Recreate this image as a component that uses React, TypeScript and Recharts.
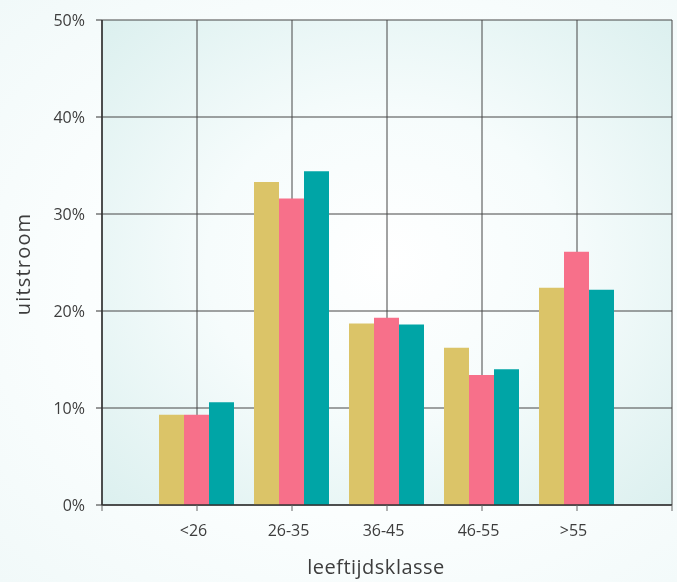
import { BarChart, Bar, XAxis, YAxis, CartesianGrid, Label } from 'recharts'

// ── Data ──────────────────────────────────────────────────────────────────────

const AGE_GROUPS = ['<26', '26-35', '36-45', '46-55', '>55']
const SERIES_A = [9.3, 33.3, 18.7, 16.2, 22.4]
const SERIES_B = [9.3, 31.6, 19.3, 13.4, 26.1]
const SERIES_C = [10.6, 34.4, 18.6, 14.0, 22.2]
const Y_TICKS = [0, 10, 20, 30, 40, 50]
const X_TICKS = [0, 1, 2, 3, 4, 5, 6]

// position 1..5 on a numeric axis so the slots sit on the grid lines
const chartData = AGE_GROUPS.map((g, i) => ({
  pos: i + 1,
  groep: g,
  a: SERIES_A[i],
  b: SERIES_B[i],
  c: SERIES_C[i],
}))

// ── Styles ────────────────────────────────────────────────────────────────────

const FONT = '"Open Sans", sans-serif'
const W = 677
const H = 582
const TEXT = '#3d3d3d'

function YTick({ x, y, payload }: any) {
  return (
    <text x={x} y={y} textAnchor="end" dominantBaseline="central"
      fill={TEXT} style={{ fontSize: 16, fontFamily: FONT }}>{`${payload.value}%`}</text>
  )
}

export default function App() {
  return (
    <div style={{
      position: 'fixed', left: 0, top: 0, width: W, height: H,
      background: 'radial-gradient(ellipse at 55% 50%, #ffffff 0%, #fbfefe 55%, #f1f9f9 100%)',
    }}>
      <BarChart width={W} height={H} data={chartData}
        margin={{ top: 20, right: 5, left: 0, bottom: 0 }}
        barGap={0} barCategoryGap="10%">
        <defs>
          <radialGradient id="plotBg" cx="50%" cy="50%" r="70%">
            <stop offset="0%" stopColor="#ffffff" />
            <stop offset="45%" stopColor="#f6fcfc" />
            <stop offset="100%" stopColor="#dcf0ef" />
          </radialGradient>
        </defs>
        <CartesianGrid stroke="#474747" strokeWidth={1} fill="url(#plotBg)" />
        <XAxis
          dataKey="pos" type="number" domain={[0, 6]} ticks={X_TICKS}
          height={77} interval={0}
          tickFormatter={(v: number) => AGE_GROUPS[v - 1] ?? ''}
          tick={{ fill: TEXT, fontSize: 16, fontFamily: FONT, dx: -3.5 }}
          tickSize={6} tickMargin={14}
          axisLine={{ stroke: '#333', strokeWidth: 1.5 }}
          tickLine={{ stroke: '#666' }}
        >
          <Label content={() => (
            <text x={376} y={574} textAnchor="middle" fill={TEXT}
              fontSize={20} fontFamily={FONT} letterSpacing={0.5}>leeftijdsklasse</text>
          )} />
        </XAxis>
        <XAxis xAxisId="top" orientation="top" type="number" domain={[0, 1]} height={0}
          tick={false} tickLine={false} axisLine={{ stroke: '#8c8c8c', strokeWidth: 2 }} />
        <YAxis
          type="number" domain={[0, 50]} ticks={Y_TICKS} width={102} interval={0}
          tick={<YTick />}
          tickSize={6} tickMargin={11}
          axisLine={{ stroke: '#333', strokeWidth: 1.5 }}
          tickLine={{ stroke: '#333' }}
        >
          <Label content={() => (
            <text x={22} y={264} textAnchor="middle" dominantBaseline="central"
              transform="rotate(-90 22 264)" fill={TEXT}
              fontSize={20} fontFamily={FONT} letterSpacing={1.2}>uitstroom</text>
          )} />
        </YAxis>
        <YAxis yAxisId="right" orientation="right" type="number" domain={[0, 50]} width={0}
          tick={false} tickLine={false} axisLine={{ stroke: '#8c8c8c', strokeWidth: 2 }} />
        <Bar dataKey="a" name="reeks 1" fill="#dbc468" isAnimationActive={false} />
        <Bar dataKey="b" name="reeks 2" fill="#f7708a" isAnimationActive={false} />
        <Bar dataKey="c" name="reeks 3" fill="#00a5a6" isAnimationActive={false} />
      </BarChart>
    </div>
  )
}
